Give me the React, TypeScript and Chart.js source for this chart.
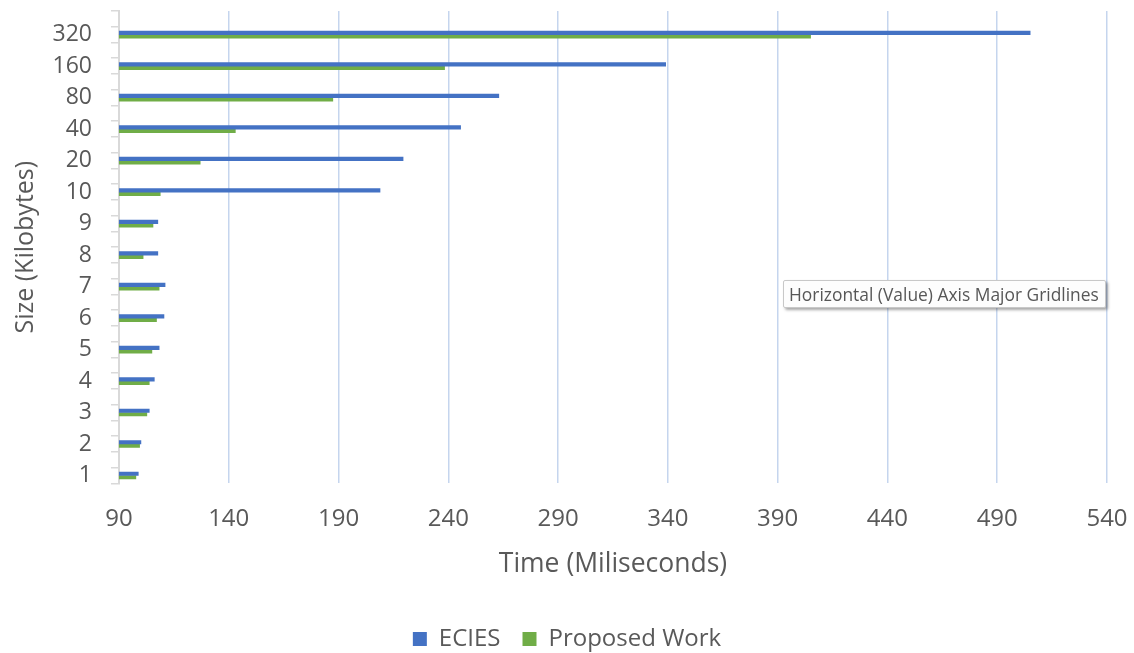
import { useEffect, useRef } from "react";
import { Chart, registerables } from "chart.js";

Chart.register(...registerables);

// Categories (top to bottom)
const sizeLabels = ["320", "160", "80", "40", "20", "10", "9", "8", "7", "6", "5", "4", "3", "2", "1"];
// Series values (milliseconds)
const eciesTimes = [505, 339, 263, 245.6, 219.4, 208.9, 107.7, 107.7, 111, 110.5, 108.3, 106.1, 103.8, 100, 98.8];
const proposedTimes = [405, 238.3, 187.4, 143, 127, 108.8, 105.5, 101, 108.3, 107.1, 105, 103.8, 102.7, 99.4, 97.7];
// Value axis
const timeMin = 90;
const timeMax = 540;
const timeStep = 50;

const FONT = "'Open Sans', sans-serif";
const TEXT = "#595959";

export default function App() {
  const ref = useRef<HTMLCanvasElement | null>(null);

  useEffect(() => {
    if (!ref.current) return;
    const lo = -0.75;
    const hi = sizeLabels.length - 0.75;
    const chart = new Chart(ref.current, {
      type: "bar",
      data: {
        datasets: [
          {
            label: "ECIES",
            data: eciesTimes.map((v, i) => ({ x: v, y: i })),
            backgroundColor: "#4472C4",
            barThickness: 3.5,
            yAxisID: "y",
            xAxisID: "x",
          },
          {
            label: "Proposed Work",
            data: proposedTimes.map((v, i) => ({ x: v, y: i })),
            backgroundColor: "#70AD47",
            barThickness: 3.5,
            yAxisID: "y",
            xAxisID: "x",
          },
        ],
      },
      options: {
        indexAxis: "y",
        animation: false,
        responsive: false,
        devicePixelRatio: 1,
        layout: { padding: { left: 27, right: 27, top: 11, bottom: -8 } },
        plugins: {
          tooltip: { enabled: false },
          legend: {
            position: "bottom",
            labels: {
              boxWidth: 14,
              boxHeight: 14,
              padding: 22,
              color: TEXT,
              font: { family: FONT, size: 24 },
            },
          },
        },
        scales: {
          x: {
            type: "linear",
            position: "bottom",
            min: timeMin,
            max: timeMax,
            ticks: {
              stepSize: timeStep,
              color: TEXT,
              font: { family: FONT, size: 24 },
              padding: 3,
            },
            grid: {
              color: (ctx: any) => (ctx.index === 0 ? "rgba(0,0,0,0)" : "#c5d5ee"),
              lineWidth: 1.5,
              drawTicks: true,
              tickLength: 18,
              tickColor: "rgba(0,0,0,0)",
            },
            border: { display: false },
            title: {
              display: true,
              text: "Time (Miliseconds)",
              color: TEXT,
              font: { family: FONT, size: 26.5 },
              padding: { top: 12, bottom: 25 },
            },
          },
          y: {
            type: "linear",
            position: "left",
            reverse: true,
            offset: false,
            min: lo,
            max: hi,
            weight: 1,
            afterBuildTicks: (axis: any) => {
              axis.ticks = sizeLabels.map((_, i) => ({ value: i }));
            },
            ticks: {
              autoSkip: false,
              callback: (v: any) => sizeLabels[v] ?? "",
              color: TEXT,
              font: { family: FONT, size: 23, lineHeight: 0.8 },
              padding: 0,
            },
            grid: { display: false, offset: false },
            border: { display: false },
            title: {
              display: true,
              text: "Size (Kilobytes)",
              color: TEXT,
              font: { family: FONT, size: 25 },
              padding: { top: -16, bottom: 11.5 },
            },
          },
          yTicks: {
            type: "linear",
            position: "left",
            reverse: true,
            offset: false,
            min: lo,
            max: hi,
            weight: 0,
            ticks: { display: false, stepSize: 0.5, autoSkip: false },
            grid: {
              offset: false,
              drawOnChartArea: false,
              drawTicks: true,
              tickLength: 8,
              color: "#d9d9d9",
              lineWidth: 1.5,
            },
            border: { display: true, color: "#d9d9d9", width: 2 },
            title: {
              display: true,
              text: " ",
              font: { family: FONT, size: 11, lineHeight: 1 },
              padding: 0,
            },
          },
        },
      } as any,
    });
    return () => chart.destroy();
  }, []);

  return (
    <div style={{ position: "fixed", left: 0, top: 0, width: 1134, height: 653, background: "#fff", overflow: "hidden" }}>
      <canvas ref={ref} width={1134} height={653} style={{ display: "block" }} />
      <div
        style={{
          position: "absolute",
          left: 783,
          top: 280,
          width: 323,
          height: 28,
          boxSizing: "border-box",
          border: "1px solid #c8c8c8",
          borderRadius: 2,
          background: "#fdfdfd",
          boxShadow: "2px 2px 3px rgba(0,0,0,0.35)",
          fontFamily: FONT,
          fontSize: 17.4,
          lineHeight: "26px",
          color: "#575757",
          paddingLeft: 5,
          whiteSpace: "nowrap",
        }}
      >
        Horizontal (Value) Axis Major Gridlines
      </div>
    </div>
  );
}
